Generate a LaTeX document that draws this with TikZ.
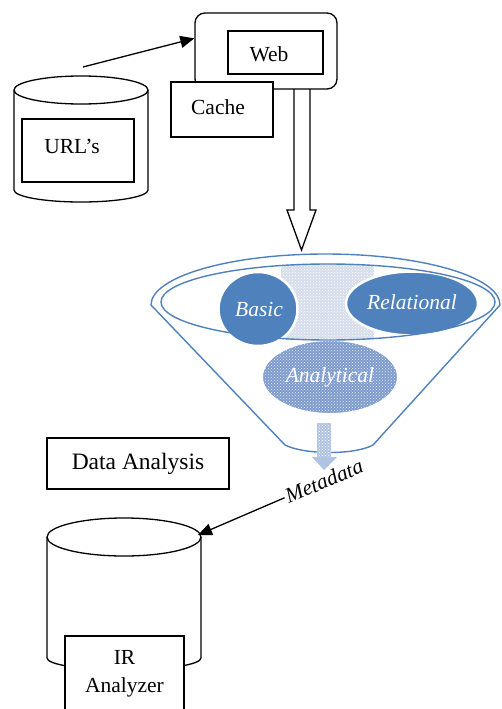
\documentclass[tikz,border=0pt]{standalone}
\usepackage{fontspec}
\setmainfont{Liberation Serif}
\usetikzlibrary{arrows.meta,patterns,calc}
\definecolor{fblue}{RGB}{79,129,189}
\definecolor{fmid}{RGB}{125,155,205}
\definecolor{flight}{RGB}{214,221,235}
\definecolor{farrow}{RGB}{176,195,226}
\begin{document}
\begin{tikzpicture}[x=1pt,y=-1pt,
  line width=1.3pt,
  box/.style={draw=black,line width=1.3pt,fill=white,inner sep=0pt,font=\fontsize{21.5}{28}\selectfont},
  blueline/.style={draw=fblue,line width=1.4pt},
  blob/.style={draw=white,line width=2.5pt},
  blobtxt/.style={font=\fontsize{21.5}{24}\selectfont\itshape,text=white},
  tip/.style={-{Triangle[length=14pt,width=12pt]}}
]
\useasboundingbox (0,0) rectangle (501,709);

% URL cylinder
\draw (14,90) -- (14,190) arc[start angle=180,end angle=0,x radius=67,y radius=12] -- (148,90);
\draw (81,90) ellipse [x radius=67, y radius=14];
\node[box,minimum width=112pt,minimum height=63pt] (url) at (78,150.5) {};
\node[font=\fontsize{21.5}{28}\selectfont] (urltxt) at (72,146) {URL’s};
\coordinate (urlout) at (83,67);

% Web / Cache
\node[box,rounded corners=10pt,minimum width=142pt,minimum height=76pt] (webouter) at (266,51) {};
\node[box,minimum width=95pt,minimum height=43pt] (web) at (275.5,52.5) {};
\node[font=\fontsize{21.5}{28}\selectfont] (webtxt) at (269,54) {Web};
\node[box,minimum width=102pt,minimum height=55pt] (cache) at (222,109.5) {};
\node[font=\fontsize{21.5}{28}\selectfont] (cachetxt) at (218,107) {Cache};
\draw[tip] (urlout) -- (webouter.170);

% hollow arrow
\draw[line join=miter] (294,89) -- (294,210) -- (287,210) -- (301.5,250) -- (316,210) -- (310,210) -- (310,89);

% funnel
\begin{scope}
  \clip (328,302) ellipse [x radius=167, y radius=38];
  \fill[flight,rounded corners=8pt] (281,262) rectangle (374,350);
  \fill[pattern=crosshatch dots,pattern color=white,rounded corners=8pt] (281,262) rectangle (374,350);
\end{scope}
\fill[fmid] (330,377) ellipse [x radius=68, y radius=37];
\fill[pattern=crosshatch dots,pattern color=white!80!fmid] (330,377) ellipse [x radius=68, y radius=37];
\draw[white,line width=2pt] (330,377) ellipse [x radius=68, y radius=37];
\node[blobtxt] (analytical) at (330,377) {Analytical};
\draw[blob,fill=fblue] (258,309) ellipse [x radius=39.5, y radius=37];
\node[blobtxt] (basic) at (259,309) {Basic};
\draw[blob,fill=fblue] (412,303.5) ellipse [x radius=66, y radius=32];
\node[blobtxt] (relational) at (412,302) {Relational};

\draw[blueline] (328,302) ellipse [x radius=167, y radius=38];
\draw[blueline,line join=round] (151,305) arc[start angle=180,end angle=360,x radius=174.5,y radius=51]
  -- (373,445) .. controls (355,455) and (305,455) .. (285,445) -- cycle;

% small arrow
\fill[farrow] (317,423) -- (331,423) -- (331,457) -- (337,457) -- (324,470) -- (312,457) -- (317,457) -- cycle;
\fill[pattern=crosshatch dots,pattern color=white] (317,423) -- (331,423) -- (331,457) -- (317,457) -- cycle;

% Metadata
\node[rotate=23,inner sep=1pt,font=\fontsize{21.5}{24}\selectfont\itshape] (meta) at (324,481) {Metadata};

% Data analysis
\node[box,minimum width=182pt,minimum height=51pt,font=\fontsize{23.5}{28}\selectfont] (da) at (138,463.5) {Data Analysis};

% IR cylinder
\draw (47,537) -- (47,658) arc[start angle=180,end angle=0,x radius=77,y radius=12] -- (201,537);
\draw (124,537) ellipse [x radius=77, y radius=19];
\coordinate (irtop) at (198,535);
\draw[tip] (meta.west) -- (irtop);
\node[box,minimum width=119pt,minimum height=76pt,align=center] (ir) at (124.5,674) {IR\\Analyzer};
\end{tikzpicture}
\end{document}
